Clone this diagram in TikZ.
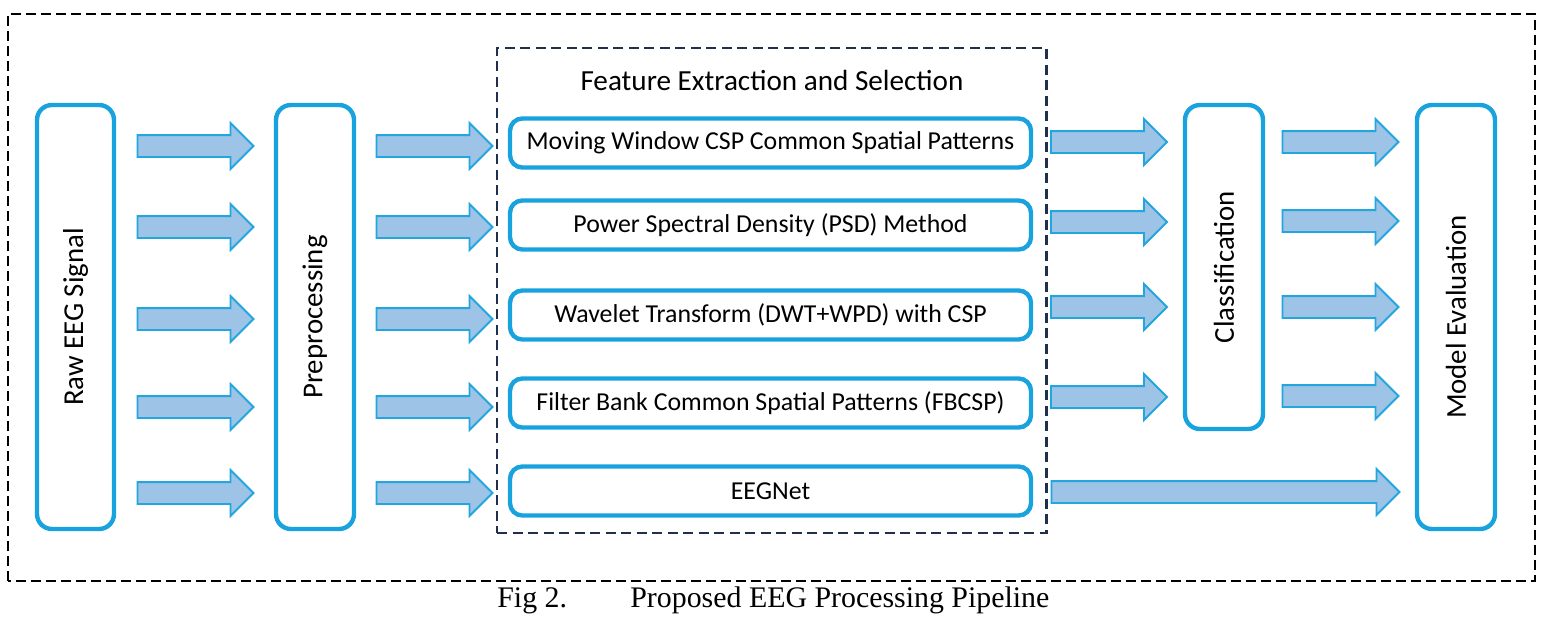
\documentclass[tikz,border=0pt]{standalone}
\usepackage{fontspec}
\setmainfont{Carlito}
\newfontfamily\capfont{Liberation Serif}
\definecolor{stageblue}{RGB}{24, 163, 222}
\definecolor{arrowfill}{RGB}{157, 195, 230}
\definecolor{arrowline}{RGB}{35, 165, 222}
\definecolor{navy1}{RGB}{33, 47, 79}
\usetikzlibrary{shapes.arrows, positioning}

\begin{document}
\begin{tikzpicture}[
  stage/.style={draw=stageblue, line width=2.5pt, rounded corners=8.5pt, fill=white,
                font=\fontsize{16.4}{19}\selectfont},
  method/.style={stage, rounded corners=7pt, minimum width=10.42cm, minimum height=0.98cm,
                 font=\fontsize{14.7}{18}\selectfont},
  fat/.style={single arrow, draw=arrowline, fill=arrowfill, line width=1.1pt,
              inner xsep=0pt, inner ysep=0.2cm, single arrow head extend=0.24cm,
              minimum width=0pt, minimum height=2.32cm},
  capt/.style={font=\capfont\fontsize{17}{20}\selectfont, anchor=base west, inner sep=0pt}]
\useasboundingbox (0,0) rectangle (30.96,12.34);

% Outer frame
\draw[black, line width=1.1pt, dash pattern=on 0.2cm off 0.1cm] (0.16,0.72) rectangle (30.70,12.06);

% Stages
\node[stage, rotate=90, minimum width=8.48cm, minimum height=1.54cm] (raw) at (1.51,6.0) {Raw EEG Signal};
\node[stage, rotate=90, minimum width=8.48cm, minimum height=1.56cm] (pre) at (6.30,6.0) {Preprocessing};
\node[stage, rotate=90, minimum width=6.48cm, minimum height=1.56cm] (cls) at (24.48,7.0) {Classification};
\node[stage, rotate=90, minimum width=8.48cm, minimum height=1.56cm] (eval) at (29.12,6.0) {Model Evaluation};

% Feature extraction block
\node[draw=navy1, line width=1.7pt, dash pattern=on 0.2cm off 0.11cm, minimum width=10.98cm,
      minimum height=9.7cm] (fes) at (15.43,6.53) {};
\node[font=\fontsize{16.6}{19}\selectfont, anchor=base] (ftitle) at (15.44,10.54) {Feature Extraction and Selection};

\node[method] (mwcsp) at (15.41,9.48) {Moving Window CSP Common Spatial Patterns};
\node[method] (psd) at (15.41,7.84) {Power Spectral Density (PSD) Method};
\node[method] (wav) at (15.41,6.04) {Wavelet Transform (DWT+WPD) with CSP};
\node[method] (fbcsp) at (15.41,4.28) {Filter Bank Common Spatial Patterns (FBCSP)};
\node[method] (eegnet) at (15.41,2.52) {EEGNet};

% Arrows raw -> preprocessing
\node[fat] (ra1) at (3.80,9.42) {};
\node[fat] (ra2) at (3.80,7.80) {};
\node[fat] (ra3) at (3.80,5.96) {};
\node[fat] (ra4) at (3.80,4.20) {};
\node[fat] (ra5) at (3.80,2.48) {};

% Arrows preprocessing -> features
\node[fat] (pa1) at (8.58,9.42) {};
\node[fat] (pa2) at (8.58,7.80) {};
\node[fat] (pa3) at (8.58,5.96) {};
\node[fat] (pa4) at (8.58,4.20) {};
\node[fat] (pa5) at (8.58,2.48) {};

% Arrows features -> classification
\node[fat] (fa1) at (22.07,9.50) {};
\node[fat] (fa2) at (22.07,7.90) {};
\node[fat] (fa3) at (22.07,6.20) {};
\node[fat] (fa4) at (22.07,4.40) {};

% Arrows classification -> evaluation
\node[fat] (ca1) at (26.70,9.50) {};
\node[fat] (ca2) at (26.70,7.92) {};
\node[fat] (ca3) at (26.70,6.20) {};
\node[fat] (ca4) at (26.70,4.42) {};

% EEGNet straight to evaluation
\node[fat, minimum height=6.96cm] (na) at (24.40,2.50) {};

% Caption
\node[capt] (figno) at (9.94,0.2) {Fig 2.};
\node[capt] (figcap) at (12.6,0.2) {Proposed EEG Processing Pipeline};

\end{tikzpicture}
\end{document}
